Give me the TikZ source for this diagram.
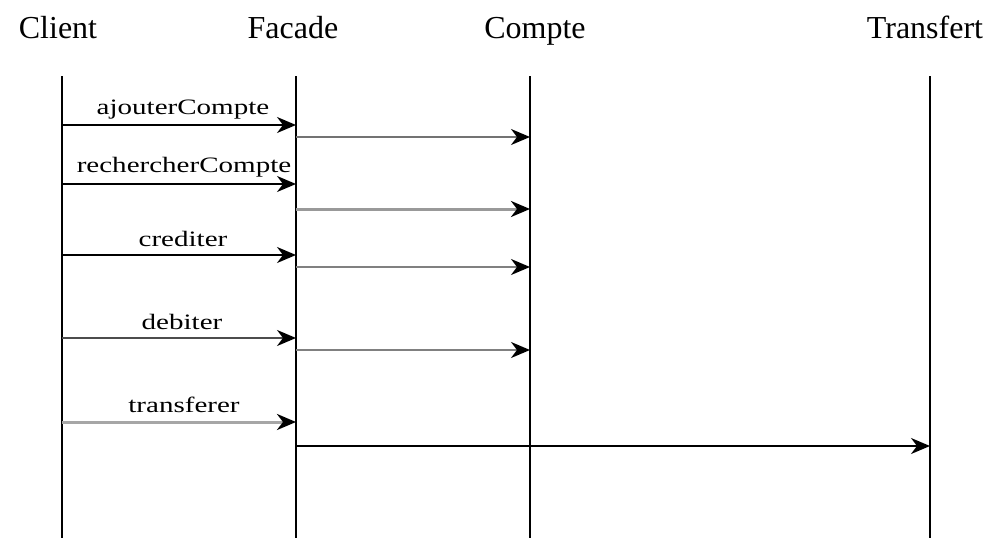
\documentclass[tikz,border=0pt]{standalone}
\usepackage{fontspec}
\setmainfont{Liberation Serif}
\usetikzlibrary{arrows.meta}
\begin{document}
\begin{tikzpicture}[x=1pt,y=-1pt,
  head/.style={font=\fontsize{32}{34}\selectfont, anchor=base},
  lifeline/.style={line width=2.4pt, black},
  msg/.style={line width=2pt, -{Stealth[length=19pt,width=16pt,inset=6pt,black]}},
  lbl/.style={font=\fontsize{22}{24}\selectfont, anchor=base, inner sep=0pt}]
\useasboundingbox (0,0) rectangle (990,538);
% headers
\node[head] (hClient) at (58,38) {Client};
\node[head] (hFacade) at (293,38) {Facade};
\node[head] (hCompte) at (535,38) {Compte};
\node[head] (hTransfert) at (925,38) {Transfert};
% lifelines
\coordinate (lC1) at (62,76); \coordinate (lC2) at (62,538);
\coordinate (lF1) at (296,76); \coordinate (lF2) at (296,538);
\coordinate (lK1) at (530,76); \coordinate (lK2) at (530,538);
\coordinate (lT1) at (930,76); \coordinate (lT2) at (930,538);
\draw[lifeline] (lC1) -- (lC2);
\draw[lifeline] (lF1) -- (lF2);
\draw[lifeline] (lK1) -- (lK2);
\draw[lifeline] (lT1) -- (lT2);
% message endpoints
\foreach \n/\y in {1/125,2/184,3/255,4/338,5/422}{
  \coordinate (c\n) at (62,\y);
  \coordinate (f\n) at (296,\y);
}
\foreach \n/\y in {1/137,2/209,3/267,4/350}{
  \coordinate (g\n) at (296,\y);
  \coordinate (k\n) at (530,\y);
}
\coordinate (g5) at (296,446);
\coordinate (t5) at (930,446);
% client -> facade
\draw[msg, black] (c1) -- (f1);
\draw[msg, black] (c2) -- (f2);
\draw[msg, black] (c3) -- (f3);
\draw[msg, black!70] (c4) -- (f4);
\draw[msg, black!35, line width=3pt] (c5) -- (f5);
% facade -> compte / transfert
\draw[msg, black!55] (g1) -- (k1);
\draw[msg, black!40, line width=3pt] (g2) -- (k2);
\draw[msg, black!50] (g3) -- (k3);
\draw[msg, black!50] (g4) -- (k4);
\draw[msg, black] (g5) -- (t5);
% labels
\node[lbl] (m1) at (183,114) {\scalebox{1.32}[1]{ajouterCompte}};
\node[lbl] (m2) at (184,172) {\scalebox{1.32}[1]{rechercherCompte}};
\node[lbl] (m3) at (183,246) {\scalebox{1.32}[1]{crediter}};
\node[lbl] (m4) at (182,329) {\scalebox{1.32}[1]{debiter}};
\node[lbl] (m5) at (184,412) {\scalebox{1.32}[1]{transferer}};
\end{tikzpicture}
\end{document}
